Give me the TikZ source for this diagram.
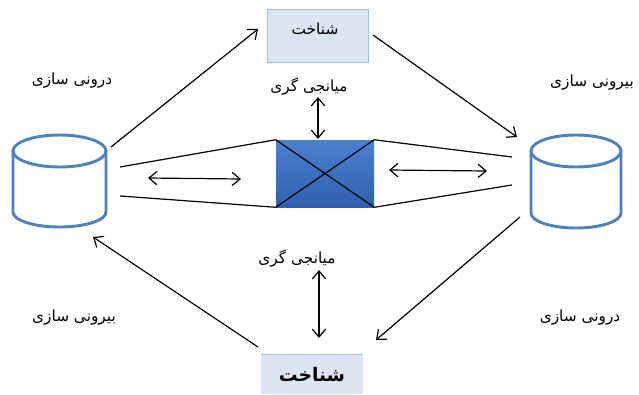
\documentclass[tikz,border=0pt]{standalone}
\usepackage{fontspec}
\newfontfamily\arabicfont[Script=Arabic]{DejaVu Sans}
\TeXXeTstate=1
\usetikzlibrary{arrows.meta}
\definecolor{cylblue}{HTML}{4F81BD}
\definecolor{boxfill}{HTML}{DCE6F2}
\definecolor{boxline}{HTML}{A7C0DE}
\definecolor{rectA}{HTML}{4B80D0}
\definecolor{rectB}{HTML}{2F60AC}
\begin{document}
\begin{tikzpicture}[x=0.75pt,y=-0.75pt,
  cyl/.style={draw=cylblue,line width=2.2pt},
  conn/.style={draw=black,line width=0.9pt},
  arr/.style={conn,-{Straight Barb[length=6pt,width=10pt]}},
  darr/.style={conn,{Straight Barb[length=6pt,width=10pt]}-{Straight Barb[length=6pt,width=10pt]}},
  lbl/.style={font=\arabicfont\fontsize{11.5}{13}\selectfont, inner sep=0pt},
  boxnode/.style={fill=boxfill, inner sep=0pt},
]
\useasboundingbox (0,0) rectangle (639,394);

% cylinders
\draw[cyl] (59.5,151) ellipse [x radius=46.5, y radius=16];
\draw[cyl] (13,151) -- (13,212) arc[start angle=180, end angle=0, x radius=46.5, y radius=15] -- (106,151);
\node[minimum width=70pt, minimum height=70pt, inner sep=0pt] (lcyl) at (59.5,181) {};
\draw[cyl] (576,151) ellipse [x radius=45, y radius=16];
\draw[cyl] (531,151) -- (531,213) arc[start angle=180, end angle=0, x radius=45, y radius=15] -- (621,151);
\node[minimum width=68pt, minimum height=70pt, inner sep=0pt] (rcyl) at (576,181) {};

% boxes
\node[boxnode, draw=boxline, line width=0.6pt, minimum width=75.75pt, minimum height=39.75pt] (topbox) at (317.5,35.5) {};
\node[lbl] at (315,29) {\beginR شناخت\endR};
\node[boxnode, minimum width=76.5pt, minimum height=29.25pt] (botbox) at (312,374.5) {};
\draw[boxline, line width=0.5pt] (botbox.north west) -- (botbox.north east);
\node[lbl, font=\arabicfont\bfseries\fontsize{14}{16}\selectfont] at (312,375) {\beginR شناخت\endR};

% centre rectangle
\shade[top color=rectA, bottom color=rectB] (276,140) rectangle (374,207);
\node[minimum width=73.5pt, minimum height=50.25pt, inner sep=0pt] (rect) at (325,173.5) {};
\draw[conn] (rect.north west) -- (rect.south east);
\draw[conn] (rect.south west) -- (rect.north east);

% funnel lines
\coordinate (lt) at (120,167);
\coordinate (lb) at (120,196);
\coordinate (rt) at (512,157);
\coordinate (rb) at (512,185);
\draw[conn] (lt) -- (rect.north west);
\draw[conn] (lb) -- (rect.south west);
\draw[conn] (rect.north east) -- (rt);
\draw[conn] (rect.south east) -- (rb);

% double arrows
\coordinate (la1) at (148,178);
\coordinate (la2) at (241,179);
\coordinate (ra1) at (389,170);
\coordinate (ra2) at (487,171);
\draw[darr] (la1) -- (la2);
\draw[darr] (ra1) -- (ra2);

% labels
\node[lbl] (l1) at (72,81) {\beginR درونی سازی\endR};
\node[lbl] (l2) at (592,83) {\beginR بیرونی سازی\endR};
\node[lbl] (l3) at (309,86) {\beginR میانجی گری\endR};
\node[lbl] (l4) at (297,258) {\beginR میانجی گری\endR};
\node[lbl] (l5) at (74,318) {\beginR بیرونی سازی\endR};
\node[lbl] (l6) at (580,318) {\beginR درونی سازی\endR};

% vertical arrows
\coordinate (v1) at (318,97);
\coordinate (v2) at (318,139);
\coordinate (v3) at (319,270);
\coordinate (v4) at (319,338);
\draw[darr] (v1) -- (v2);
\draw[darr] (v3) -- (v4);

% diagonal arrows
\coordinate (a1) at (111,147);
\coordinate (a2) at (258,29);
\coordinate (b1) at (373,35);
\coordinate (b2) at (517,137);
\coordinate (c1) at (520,217);
\coordinate (c2) at (376,340);
\coordinate (d1) at (258,347);
\coordinate (d2) at (93,237);
\draw[arr] (a1) -- (a2);
\draw[arr] (b1) -- (b2);
\draw[arr] (c1) -- (c2);
\draw[arr] (d1) -- (d2);
\end{tikzpicture}
\end{document}
